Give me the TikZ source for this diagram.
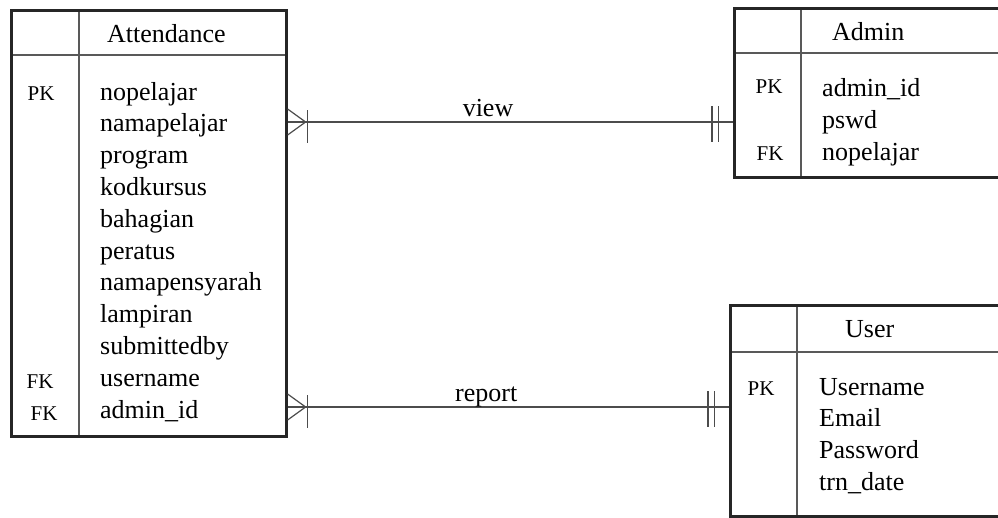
\documentclass[tikz,border=0pt]{standalone}
\usepackage{fontspec}
\setmainfont{Liberation Serif}
\usetikzlibrary{positioning}

\tikzset{
  tblframe/.style={draw=black!85, line width=2.6pt, inner sep=0pt},
  tblrule/.style={draw=black!65, line width=1.3pt},
  relline/.style={draw=black!70, line width=1.2pt},
  fieldtxt/.style={font=\fontsize{26}{30}\selectfont, text=black, inner sep=0pt, anchor=base west},
  titletxt/.style={fieldtxt},
  keytxt/.style={font=\fontsize{21}{24}\selectfont, text=black, inner sep=0pt, anchor=base},
  reltxt/.style={font=\fontsize{26}{30}\selectfont, text=black, inner sep=0pt, anchor=base},
}

\begin{document}
\begin{tikzpicture}[x=1pt, y=-1pt]
\useasboundingbox (0,0) rectangle (998,517);

% inner rules of the three tables
\draw [tblrule] (10,55) -- (285,55);
\draw [tblrule] (79,9) -- (79,435);
\draw [tblrule] (733,53) -- (999,53);
\draw [tblrule] (801,7) -- (801,176);
\draw [tblrule] (729,352) -- (999,352);
\draw [tblrule] (797,304) -- (797,515);

% table frames
\node [tblframe, anchor=north west, minimum width=275pt, minimum height=426pt] (att) at (10,9) {};
\node [tblframe, anchor=north west, minimum width=266pt, minimum height=169pt] (adm) at (733,7) {};
\node [tblframe, anchor=north west, minimum width=270pt, minimum height=211pt] (usr) at (729,304) {};

% Attendance
\node [titletxt] (att-title) at (107,42) {Attendance};
\foreach \fld [count=\i] in {nopelajar, namapelajar, program, kodkursus, bahagian, peratus,
    namapensyarah, lampiran, submittedby, username, admin\_id} {
  \node [fieldtxt] (att-\i) at (100,{100+31.8*(\i-1)}) {\fld};
}
\node [keytxt] (att-pk) at (41,100) {PK};
\node [keytxt] (att-fk1) at (40,388) {FK};
\node [keytxt] (att-fk2) at (44,420) {FK};

% Admin
\node [titletxt] (adm-title) at (832,40) {Admin};
\foreach \fld [count=\i] in {admin\_id, pswd, nopelajar} {
  \node [fieldtxt] (adm-\i) at (822,{96+32*(\i-1)}) {\fld};
}
\node [keytxt] (adm-pk) at (769,93) {PK};
\node [keytxt] (adm-fk) at (770,160) {FK};

% User
\node [titletxt] (usr-title) at (845,337) {User};
\foreach \fld [count=\i] in {Username, Email, Password, trn\_date} {
  \node [fieldtxt] (usr-\i) at (819,{395+31.7*(\i-1)}) {\fld};
}
\node [keytxt] (usr-pk) at (761,395) {PK};

% relationships: many (crow's foot) to exactly one
\foreach \rel/\tab/\rowy in {view/adm/122, report/usr/407} {
  \coordinate (\rel-row) at (0,\rowy);
  \coordinate (\rel-a) at (att.east |- \rel-row);
  \coordinate (\rel-b) at (\tab.west |- \rel-row);
  \draw [relline] (\rel-a) -- (\rel-b)
    node [reltxt, pos=0.45, yshift=6pt] (\rel-lbl) {\rel};
  \draw [relline] (\rel-a) ++(0,-13) -- ++(18,13) -- ++(-18,13);
  \draw [relline] (\rel-a) ++(20,-12) -- ++(0,33);
  \draw [relline] (\rel-b) ++(-21,-16) -- ++(0,36);
  \draw [relline] (\rel-b) ++(-14.5,-16) -- ++(0,36);
}
\end{tikzpicture}
\end{document}
